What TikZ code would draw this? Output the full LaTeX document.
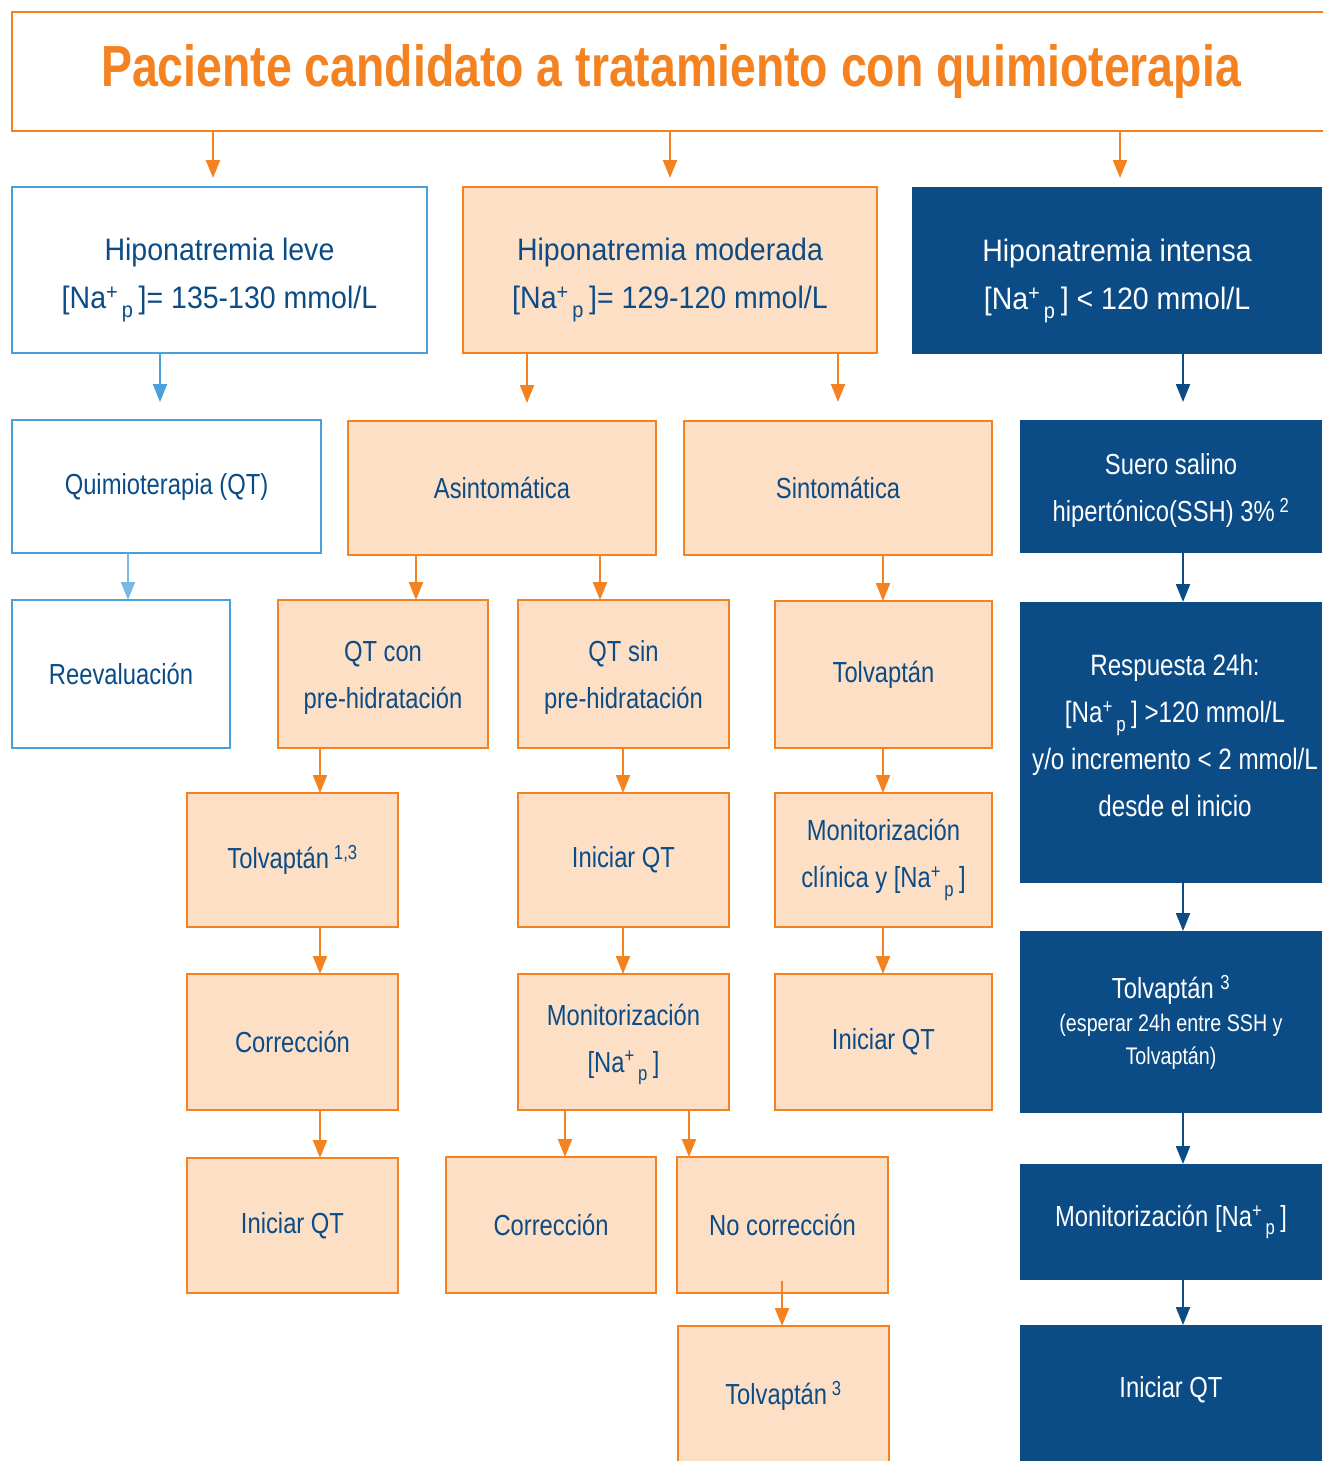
\documentclass[tikz,border=0pt]{standalone}
\usepackage{fontspec}
\setmainfont{Liberation Sans}[FakeStretch=0.82]
\newfontfamily\hdfont{Liberation Sans}[FakeStretch=0.92]
\newfontfamily\ttlfont{Liberation Sans}[FakeStretch=0.80]
\usetikzlibrary{arrows.meta}
\definecolor{orng}{RGB}{245,130,32}
\definecolor{peach}{RGB}{253,223,198}
\definecolor{dblue}{RGB}{11,76,135}
\definecolor{lblue}{RGB}{74,160,218}
\definecolor{llblue}{RGB}{120,185,230}
\newcommand\NaP{[Na\textsuperscript{+}\textsubscript{\,\raisebox{-0.25em}{p}}\,]}
\newcommand\bx[6]{\node[#1, minimum width={(#4-#2)*1pt}, minimum height={(#5-#3)*1pt}] (#6) at ({(#2+#4)/2},{(#3+#5)/2})}
\tikzset{
  base/.style={rectangle, inner sep=0pt, outer sep=0pt, line width=2.4pt, align=center, text=dblue, font=\fontsize{29}{47}\selectfont},
  obox/.style={base, draw=orng, fill=peach},
  bbox/.style={base, draw=lblue, fill=white},
  dbox/.style={base, fill=dblue, text=white},
  hd/.style={font=\hdfont\fontsize{31}{48}\selectfont},
  arrbase/.style={line width=2.2pt, -{Triangle[length=18pt,width=14pt]}},
  oarr/.style={arrbase, draw=orng, fill=orng},
  barr/.style={arrbase, draw=lblue, fill=lblue},
  lbarr/.style={arrbase, draw=llblue, fill=llblue},
  darr/.style={arrbase, draw=dblue, fill=dblue}
}
\begin{document}
\begin{tikzpicture}[x=1pt,y=-1pt]
\useasboundingbox (0,0) rectangle (1322,1461);
% title
\bx{base, draw=orng, fill=white, text=orng, font=\ttlfont\bfseries\fontsize{58}{60}\selectfont}{12}{12}{1330}{131}{title} {Paciente candidato a tratamiento con quimioterapia};
% row 1
\bx{bbox, hd}{12}{187}{427}{353}{leve} {\rule{0pt}{43pt}Hiponatremia leve\\\NaP= 135-130 mmol/L};
\bx{obox, hd}{463}{187}{877}{353}{mod} {\rule{0pt}{43pt}Hiponatremia moderada\\\NaP= 129-120 mmol/L};
\bx{dbox, hd}{912}{187}{1322}{354}{int} {\rule{0pt}{43pt}Hiponatremia intensa\\\NaP\ < 120 mmol/L};
% row 2
\bx{bbox}{12}{420}{321}{553}{qt} {Quimioterapia (QT)};
\bx{obox}{348}{421}{656}{555}{asin} {Asintomática};
\bx{obox}{684}{421}{992}{555}{sint} {Sintomática};
\bx{dbox}{1020}{420}{1322}{553}{suero} {\rule{0pt}{30pt}Suero salino\\hipertónico(SSH) 3\%\,\textsuperscript{2}};
% row 3
\bx{bbox}{12}{600}{230}{748}{reev} {Reevaluación};
\bx{obox}{278}{600}{488}{748}{qtcon} {\rule{0pt}{28pt}QT con\\pre-hidratación};
\bx{obox}{518}{600}{729}{748}{qtsin} {\rule{0pt}{28pt}QT sin\\pre-hidratación};
\bx{obox}{775}{601}{992}{748}{tolvS} {Tolvaptán};
\bx{dbox, font=\fontsize{29.5}{47}\selectfont}{1028}{602}{1322}{883}{resp} {Respuesta 24h:\\\NaP\ >120 mmol/L\\y/o incremento < 2 mmol/L\\desde el inicio\rule[-14pt]{0pt}{0pt}};
\fill[dblue] (resp.north west) rectangle (1020,883);
% row 4
\bx{obox}{187}{793}{398}{927}{tolvA} {Tolvaptán\,\textsuperscript{1,3}};
\bx{obox}{518}{793}{729}{927}{iniA} {Iniciar QT};
\bx{obox}{775}{793}{992}{927}{monC} {Monitorización\\clínica y \NaP};
\bx{dbox, font=\fontsize{24}{33}\selectfont}{1020}{931}{1322}{1113}{tolvR} {{\fontsize{29}{33}\selectfont Tolvaptán \textsuperscript{3}}\\(esperar 24h entre SSH y\\Tolvaptán)};
% row 5
\bx{obox}{187}{974}{398}{1110}{corrA} {Corrección};
\bx{obox}{518}{974}{729}{1110}{monN} {\rule{0pt}{26pt}Monitorización\\\NaP};
\bx{obox}{775}{974}{992}{1110}{iniS} {Iniciar QT};
\bx{dbox}{1020}{1164}{1322}{1280}{monR} {Monitorización \NaP};
% row 6
\bx{obox}{187}{1158}{398}{1293}{iniB} {Iniciar QT};
\bx{obox}{446}{1157}{656}{1293}{corrB} {Corrección};
\bx{obox}{677}{1157}{888}{1293}{nocorr} {No corrección};
% row 7
\bx{obox}{678}{1326}{889}{1466}{tolvB} {Tolvaptán\,\textsuperscript{3}};
\bx{dbox}{1020}{1325}{1322}{1455}{iniR} {Iniciar QT};
\fill[dblue] (iniR.south west) rectangle (1322,1461);
% arrows
\draw[oarr, shorten >=9pt] (title.south -| 213,0) -- (leve.north -| 213,0);
\draw[oarr, shorten >=9pt] (title.south -| 670,0) -- (mod.north -| 670,0);
\draw[oarr, shorten >=9pt] (title.south -| 1120,0) -- (int.north -| 1120,0);
\draw[barr, shorten >=18pt] (leve.south -| 160,0) -- (qt.north -| 160,0);
\draw[lbarr] (qt.south -| 128,0) -- (reev.north -| 128,0);
\draw[oarr, shorten >=18pt] (mod.south -| 527,0) -- (asin.north -| 527,0);
\draw[oarr, shorten >=19pt] (mod.south -| 838,0) -- (sint.north -| 838,0);
\draw[darr, shorten >=18pt] (int.south -| 1183,0) -- (suero.north -| 1183,0);
\draw[oarr] (asin.south -| 416,0) -- (qtcon.north -| 416,0);
\draw[oarr] (asin.south -| 600,0) -- (qtsin.north -| 600,0);
\draw[oarr] (sint.south -| 883,0) -- (tolvS.north -| 883,0);
\draw[darr] (suero.south -| 1183,0) -- (resp.north -| 1183,0);
\draw[oarr] (qtcon.south -| 320,0) -- (tolvA.north -| 320,0);
\draw[oarr] (qtsin.south -| 623,0) -- (iniA.north -| 623,0);
\draw[oarr] (tolvS.south -| 883,0) -- (monC.north -| 883,0);
\draw[darr] (resp.south -| 1183,0) -- (tolvR.north -| 1183,0);
\draw[oarr] (tolvA.south -| 320,0) -- (corrA.north -| 320,0);
\draw[oarr] (iniA.south -| 623,0) -- (monN.north -| 623,0);
\draw[oarr] (monC.south -| 883,0) -- (iniS.north -| 883,0);
\draw[darr] (tolvR.south -| 1183,0) -- (monR.north -| 1183,0);
\draw[oarr] (corrA.south -| 320,0) -- (iniB.north -| 320,0);
\draw[oarr] (monN.south -| 565,0) -- (corrB.north -| 565,0);
\draw[oarr] (monN.south -| 689,0) -- (nocorr.north -| 689,0);
\draw[darr] (monR.south -| 1183,0) -- (iniR.north -| 1183,0);
\draw[oarr, shorten <=-12pt] (nocorr.south -| 782,0) -- (tolvB.north -| 782,0);
\end{tikzpicture}
\end{document}
